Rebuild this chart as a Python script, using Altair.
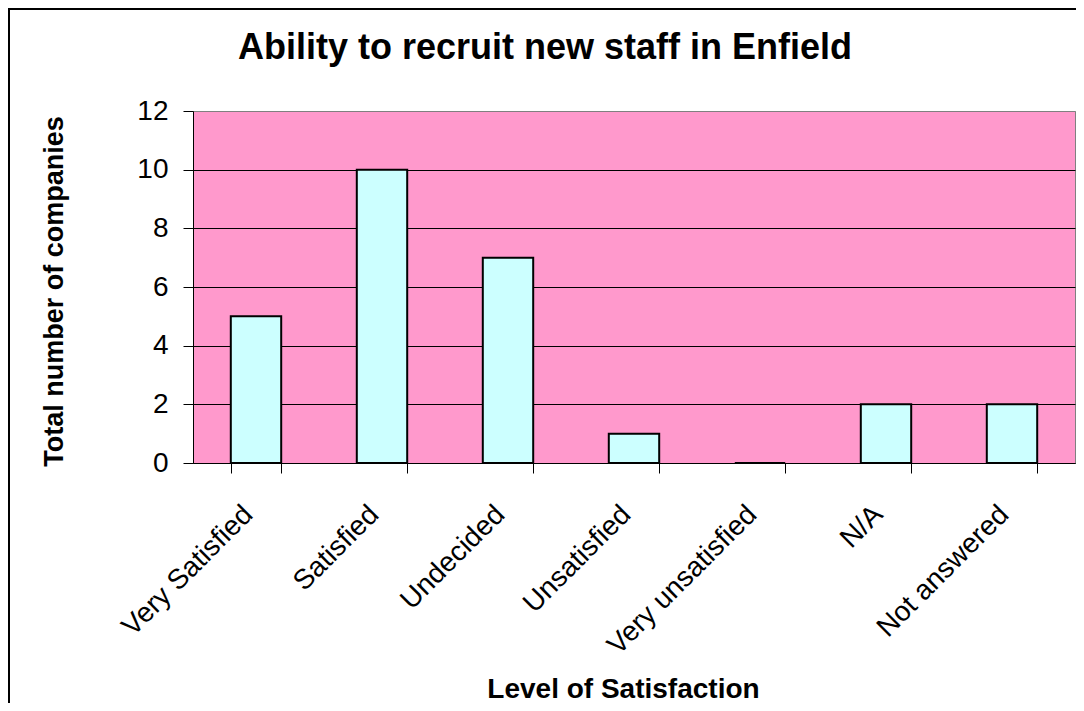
import altair as alt
import pandas as pd

categories = ["Very Satisfied", "Satisfied", "Undecided", "Unsatisfied",
              "Very unsatisfied", "N/A", "Not answered"]
counts = [5, 10, 7, 1, 0, 2, 2]
y_ticks = [0, 2, 4, 6, 8, 10, 12]
chart_title = ["Ability to recruit new staff in Enfield"]

df = pd.DataFrame({"category": categories, "count": counts})

FONT = "Liberation Sans"

bars = alt.Chart(df).mark_bar(
    fill="#CCFFFF", stroke="#000000", strokeWidth=2
).encode(
    x=alt.X("category:N", sort=categories,
            scale=alt.Scale(paddingInner=0.6, paddingOuter=0.3),
            axis=alt.Axis(title="Level of Satisfaction", labelAngle=-45,
                          labelAlign="right", labelBaseline="middle",
                          labelFontSize=28, labelFont=FONT, labelColor="#000000",
                          labelPadding=37, labelOffset=-8, labelLimit=400,
                          tickBand="extent", tickSize=10,
                          tickColor="#000000", domainColor="#000000",
                          titleFontSize=28, titleFont=FONT, titleFontWeight="bold",
                          titleColor="#000000", titleX=430, titleY=234,
                          titleBaseline="alphabetic", titleAnchor="middle",
                          titleAlign="center")),
    y=alt.Y("count:Q", scale=alt.Scale(domain=[0, 12], nice=False),
            axis=alt.Axis(title="Total number of companies", values=y_ticks,
                          labelFontSize=28, labelFont=FONT, labelColor="#000000",
                          labelPadding=15, tickSize=10, tickColor="#000000",
                          domainColor="#000000", grid=True,
                          gridColor={"condition": {"test": "datum.value === 12", "value": "#808080"},
                                     "value": "#000000"},
                          gridWidth=1,
                          titleFontSize=27, titleFont=FONT, titleFontWeight="bold",
                          titleColor="#000000", titleX=-139, titleY=180,
                          titleAngle=-90, titleBaseline="middle",
                          titleAlign="center")),
)

title_df = pd.DataFrame({"t": chart_title})
title = alt.Chart(title_df).mark_text(
    font=FONT, fontSize=36, fontWeight="bold", color="#000000",
    align="center", baseline="alphabetic", clip=False
).encode(
    text="t:N", x=alt.value(352), y=alt.value(-52)
)

frame = alt.Chart(title_df).mark_rect(
    fill=None, stroke="#000000", strokeWidth=2, clip=False
).encode(
    x=alt.value(-184), x2=alt.value(1000), y=alt.value(-102), y2=alt.value(700)
)

chart = alt.layer(bars, title, frame).properties(
    width=882, height=352,
    padding={"left": 185, "top": 103, "right": 1, "bottom": 240},
    autosize=alt.AutoSizeParams(type="none"),
    background="#FFFFFF",
).configure_view(
    fill="#FF99CC", stroke="#808080", strokeWidth=1
)

chart.save("out.html", embed_options={"renderer": "svg", "actions": False})
